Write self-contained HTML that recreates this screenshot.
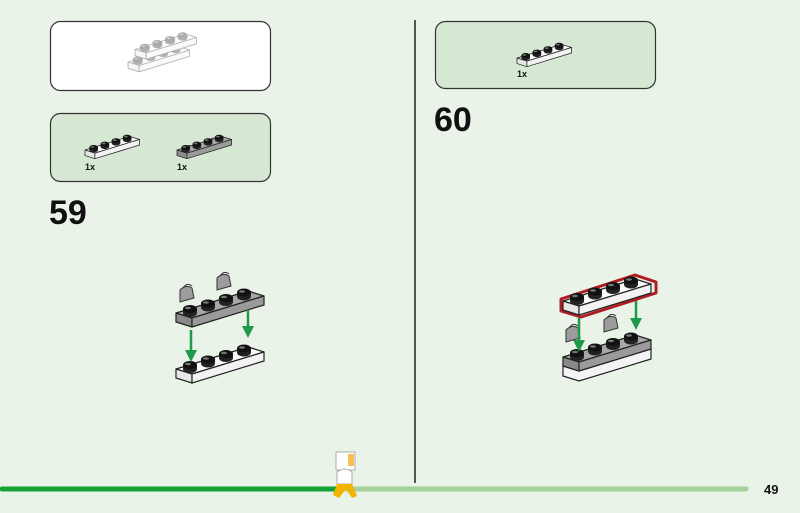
<!DOCTYPE html>
<html><head><meta charset="utf-8"><style>
html,body{margin:0;padding:0;background:#e9f3e8;}
svg{display:block;font-family:"Liberation Sans",sans-serif;}
</style></head><body>
<svg width="800" height="513" viewBox="0 0 800 513" xmlns="http://www.w3.org/2000/svg">
<defs>
<g id="studs">
 <g id="stud"><ellipse cx="14" cy="0" rx="7" ry="4" fill="#222"/><rect x="7" y="-4" width="14" height="4" fill="#222"/><ellipse cx="14" cy="-4" rx="7" ry="4" fill="#111"/><ellipse cx="12" cy="-5" rx="3" ry="1.3" fill="#777"/></g>
 <use href="#stud" x="18" y="-5.5"/><use href="#stud" x="36" y="-11"/><use href="#stud" x="54" y="-16.5"/>
</g>
<g id="wplate" stroke="#222" stroke-width="1.2" stroke-linejoin="round">
 <polygon points="0,0 72,-22 88,-17 16,5" fill="#fafafa"/>
 <polygon points="0,0 16,5 16,14 0,9" fill="#e6e6e6"/>
 <polygon points="16,5 88,-17 88,-8 16,14" fill="#f2f2f2"/>
 <use href="#studs" stroke="none"/>
</g>
<g id="gplate" stroke="#222" stroke-width="1.2" stroke-linejoin="round">
 <polygon points="0,0 72,-22 88,-17 16,5" fill="#a8a8a8"/>
 <polygon points="0,0 16,5 16,14 0,9" fill="#8a8a8a"/>
 <polygon points="16,5 88,-17 88,-8 16,14" fill="#9a9a9a"/>
 <use href="#studs" stroke="none"/>
</g>
<g id="clip" stroke="#333" stroke-width="1" fill="#9c9c9c">
 <path d="M0,10 L0,-2 Q6,-8 12,-4 L14,6 Z"/><path d="M3,-4 Q7,-10 12,-6" fill="none"/>
</g>
</defs>

<!-- boxes -->
<rect x="50.5" y="21.5" width="220" height="69" rx="10" fill="#fff" stroke="#333" stroke-width="1.2"/>
<g opacity="0.35" transform="translate(128,62) scale(0.7)">
 <use href="#wplate"/><use href="#wplate" x="10" y="-18"/>
</g>
<rect x="50.5" y="113.5" width="220" height="68" rx="10" fill="#d6e8d3" stroke="#333" stroke-width="1.2"/>
<g transform="translate(85,150) scale(0.62)"><use href="#wplate"/></g>
<g transform="translate(177,150) scale(0.62)"><use href="#clip" x="12" y="0"/><use href="#clip" x="50" y="-12"/><use href="#gplate"/></g>
<text x="85" y="170" font-size="9" font-weight="bold" fill="#111">1x</text>
<text x="177" y="170" font-size="9" font-weight="bold" fill="#111">1x</text>

<rect x="435.5" y="21.5" width="220" height="67" rx="10" fill="#d6e8d3" stroke="#333" stroke-width="1.2"/>
<g transform="translate(517,58) scale(0.62)"><use href="#wplate"/></g>
<text x="517" y="77" font-size="9" font-weight="bold" fill="#111">1x</text>

<text x="49" y="224" font-size="34" font-weight="bold" fill="#111">59</text>
<text x="434" y="131" font-size="34" font-weight="bold" fill="#111">60</text>

<line x1="415" y1="20" x2="415" y2="483" stroke="#222" stroke-width="1.5"/>

<!-- step 59 -->
<use href="#wplate" x="176" y="369"/>
<use href="#clip" x="180" y="292"/>
<use href="#clip" x="217" y="280"/>
<use href="#gplate" x="176" y="313"/>
<g stroke="#1f9a4a" stroke-width="2.5" fill="#1f9a4a">
 <line x1="191" y1="330" x2="191" y2="352"/><polygon points="185,350 197,350 191,362" stroke="none"/>
 <line x1="248" y1="310" x2="248" y2="328"/><polygon points="242,326 254,326 248,338" stroke="none"/>
</g>

<!-- step 60 -->
<g transform="translate(563,357)">
 <polygon points="0,9 16,14 88,-8 88,2 16,24 0,19" fill="#f4f4f4" stroke="#222" stroke-width="1.2"/>
</g>
<use href="#clip" x="566" y="332"/>
<use href="#clip" x="604" y="322"/>
<use href="#gplate" x="563" y="357"/>
<g stroke="#1f9a4a" stroke-width="2.5" fill="#1f9a4a">
 <line x1="579" y1="318" x2="579" y2="342"/><polygon points="573,340 585,340 579,352" stroke="none"/>
 <line x1="636" y1="300" x2="636" y2="320"/><polygon points="630,318 642,318 636,330" stroke="none"/>
</g>
<polygon points="561,299 635,275 656,282 656,293 581,317 561,311" fill="none" stroke="#b01c22" stroke-width="3" stroke-linejoin="round"/>
<use href="#wplate" x="563" y="301"/>

<!-- progress bar -->
<line x1="342" y1="489" x2="746" y2="489" stroke="#a3d197" stroke-width="5" stroke-linecap="round"/>
<line x1="2" y1="489" x2="342" y2="489" stroke="#15a038" stroke-width="5" stroke-linecap="round"/>
<!-- minifig -->
<rect x="336" y="452" width="19" height="18" fill="#fff" stroke="#999" stroke-width="0.8"/>
<rect x="348" y="454" width="6" height="12" fill="#f2c14e"/>
<path d="M337,472 Q345,466 352,472 L352,484 L337,484 Z" fill="#fff" stroke="#999" stroke-width="0.8"/>
<path d="M337,484 L352,484 L357,496 L352,498 L346,489 L339,498 L333,495 Z" fill="#f2b400"/>
<text x="764" y="494" font-size="13" font-weight="bold" fill="#111">49</text>
</svg>
</body></html>
